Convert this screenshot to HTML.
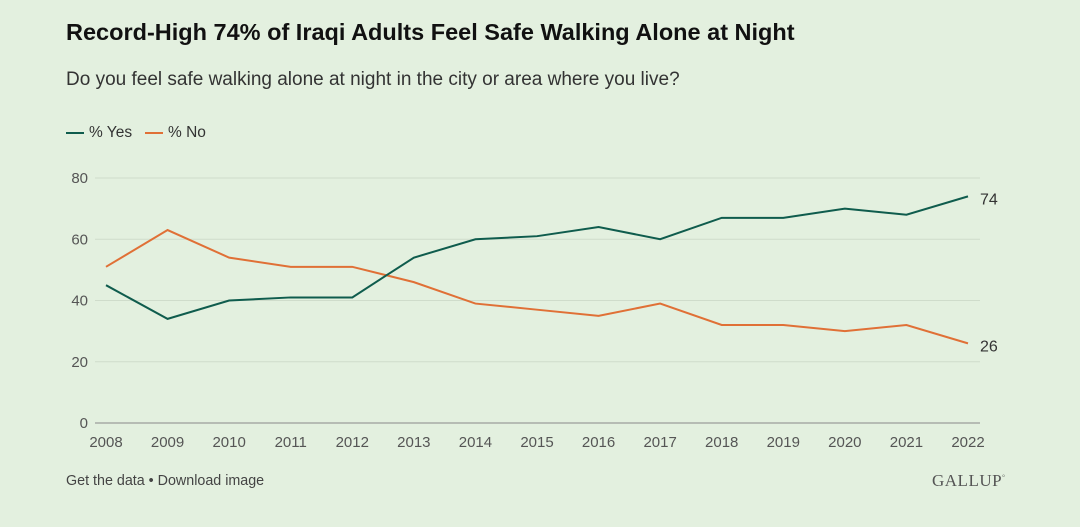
<!DOCTYPE html>
<html><head><meta charset="utf-8"><style>
body{margin:0;width:1080px;height:527px;background:#e3f0df;font-family:"Liberation Sans",sans-serif;overflow:hidden;position:relative}
.t{position:absolute;white-space:nowrap}
</style></head><body>
<div class="t" style="left:66px;top:19px;font-size:23.5px;font-weight:bold;color:#111">Record-High 74% of Iraqi Adults Feel Safe Walking Alone at Night</div>
<div class="t" style="left:66px;top:69px;font-size:19px;color:#333">Do you feel safe walking alone at night in the city or area where you live?</div>
<div class="t" style="left:66px;top:124px;font-size:15.5px;color:#333"><span style="display:inline-block;width:18px;height:2px;background:#0f5c4d;vertical-align:middle;margin-right:5px"></span>% Yes</div>
<div class="t" style="left:145px;top:124px;font-size:15.5px;color:#333"><span style="display:inline-block;width:18px;height:2px;background:#e07036;vertical-align:middle;margin-right:5px"></span>% No</div>
<div class="t" style="left:66px;top:473px;font-size:14.3px;color:#444">Get the data • Download image</div>
<div class="t" style="left:932px;top:471px;font-size:17px;font-family:'Liberation Serif',serif;color:#555;letter-spacing:0.5px">GALLUP<sup style="font-size:7px">°</sup></div>
<svg id="c" width="1080" height="527" style="position:absolute;left:0;top:0"></svg>
<script>
const years=[2008,2009,2010,2011,2012,2013,2014,2015,2016,2017,2018,2019,2020,2021,2022];
const yesVals=[45,34,40,41,41,54,60,61,64,60,67,67,70,68,74];
const noVals=[51,63,54,51,51,46,39,37,35,39,32,32,30,32,26];
const yTicks=[0,20,40,60,80];
const svg=document.getElementById('c');const NS='http://www.w3.org/2000/svg';
const x=y=>106+(y-2008)*(968-106)/14;
const yS=v=>423-v*(423-178)/80;
function el(t,a){const e=document.createElementNS(NS,t);for(const k in a)e.setAttribute(k,a[k]);svg.appendChild(e);return e;}
yTicks.forEach(v=>{
 const l=el('line',{x1:95,x2:980,y1:yS(v),y2:yS(v),stroke:v===0?'#888':'#cfdccb','stroke-width':1});
 
 
 const t=el('text',{x:88,y:yS(v)+5,'text-anchor':'end','font-size':15,fill:'#555'});t.textContent=v;
 
 
});
years.forEach(yr=>{
 const t=el('text',{x:x(yr),y:447,'text-anchor':'middle','font-size':15,fill:'#555'});t.textContent=yr;
 
 
});
function line(vals,col,name){
 const p=el('polyline',{points:vals.map((v,i)=>x(years[i])+','+yS(v)).join(' '),fill:'none',stroke:col,'stroke-width':2});
 
 
 const n=vals.length-1;
 const t=el('text',{x:x(years[n])+12,y:yS(vals[n])+8,'font-size':16,fill:'#333'});t.textContent=vals[n];
 
 
}
line(noVals,'#e07036','no-series-line');
line(yesVals,'#0f5c4d','yes-series-line');
</script>
</body></html>
